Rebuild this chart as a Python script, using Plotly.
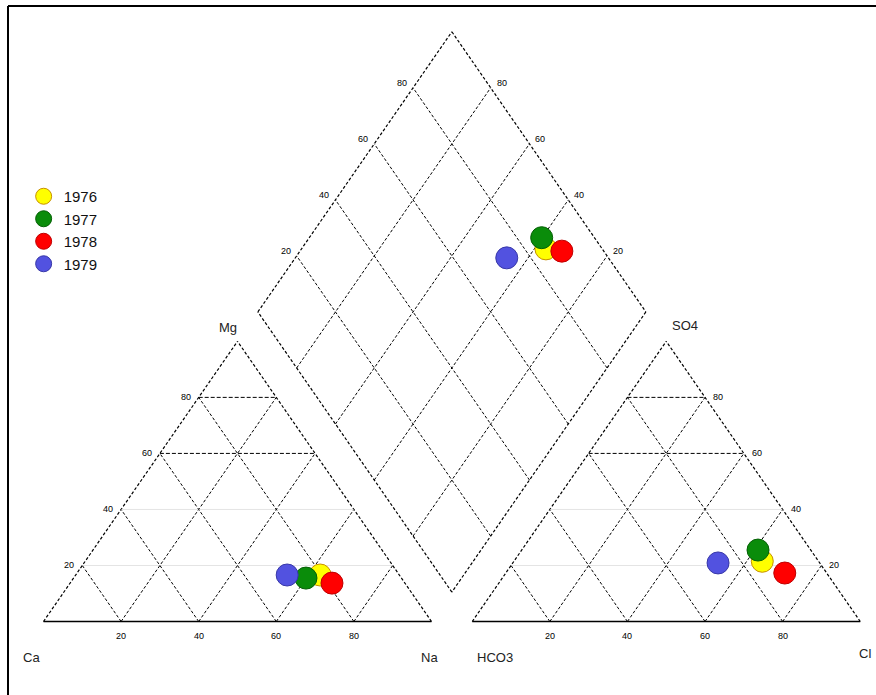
import math
import plotly.graph_objects as go

# ---- data (percent of meq) ----
years = ["1976", "1977", "1978", "1979"]
mg_pct = [16.6, 15.5, 13.7, 16.6]      # Mg (cation triangle, top)
na_pct = [63.0, 59.9, 67.5, 54.5]      # Na+K (cation triangle, right)
so4_pct = [21.5, 25.5, 17.3, 20.9]     # SO4 (anion triangle, top)
cl_pct = [64.0, 60.9, 71.9, 52.9]      # Cl (anion triangle, right)
colors = ["#FFFF00", "#0A8C0A", "#FF0000", "#5252E0"]
edge_colors = ["#C89000", "#066006", "#C00000", "#3838A8"]
tick_vals = [20, 40, 60, 80]
tick_text = ["20", "40", "60", "80"]

# ---- geometry ----
G = 10.5                      # gap between triangles
H = math.sqrt(3) / 2 * 100    # triangle height
BX, BY = 100 + G / 2, G * math.sqrt(3) / 2   # diamond bottom vertex


def cat_xy(mg, na):
    return na + mg / 2, mg * H / 100


def an_xy(so4, cl):
    return 100 + G + cl + so4 / 2, so4 * H / 100


def dia_xy(w, s):
    # w = Ca+Mg, s = SO4+Cl
    return BX + (s - w) / 2, BY + (w + s) / 100 * H


fig = go.Figure()
DASH = "3px,2px"


def seg(p, q, color="black", width=1, dash=DASH):
    fig.add_trace(go.Scatter(x=[p[0], q[0]], y=[p[1], q[1]], mode="lines",
                             line=dict(color=color, width=width, dash=dash),
                             hoverinfo="skip", showlegend=False))


# triangles
for off in (0, 100 + G):
    A = (off, 0); Bp = (off + 100, 0); C = (off + 50, H)
    seg(A, Bp, width=1.6, dash="solid")
    seg(A, C, width=1.2)
    seg(Bp, C, width=1.2)
    for t in tick_vals:
        y = t * H / 100
        xl = off + t / 2
        xr = off + 100 - t / 2
        if t >= 60:
            seg((xl, y), (xr, y), width=1, dash="4px,2px")
        else:
            seg((xl, y), (xr, y), color="#E4E4E4", width=1, dash="solid")
        seg((off + t, 0), (off + t + (100 - t) / 2, (100 - t) * H / 100))
        seg((off + t, 0), (off + t / 2, t * H / 100))

# diamond
Dcorner = [dia_xy(0, 0), dia_xy(100, 0), dia_xy(100, 100), dia_xy(0, 100), dia_xy(0, 0)]
for i in range(4):
    seg(Dcorner[i], Dcorner[i + 1], width=1.2)
for t in tick_vals:
    seg(dia_xy(0, t), dia_xy(100, t))
    seg(dia_xy(t, 0), dia_xy(t, 100))

# ---- data points ----
for i, yr in enumerate(years):
    cx, cy = cat_xy(mg_pct[i], na_pct[i])
    ax_, ay_ = an_xy(so4_pct[i], cl_pct[i])
    dx, dy = dia_xy(100 - na_pct[i], so4_pct[i] + cl_pct[i])
    fig.add_trace(go.Scatter(
        x=[cx, ax_, dx], y=[cy, ay_, dy], mode="markers", name=yr,
        marker=dict(size=22, color=colors[i], line=dict(color=edge_colors[i], width=1)),
    ))

# ---- tick labels ----
ann = []
tf = dict(family="Liberation Sans, Arial", size=9, color="black")
for t, lab in zip(tick_vals, tick_text):
    ann.append(dict(x=t / 2, y=t * H / 100, text=lab, xshift=-13, showarrow=False, font=tf))
    ann.append(dict(x=t, y=0, text=lab, yshift=-14, showarrow=False, font=tf))
    ann.append(dict(x=100 + G + 100 - t / 2, y=t * H / 100, text=lab,
                    xshift=13, showarrow=False, font=tf))
    ann.append(dict(x=100 + G + t, y=0, text=lab, yshift=-14, showarrow=False, font=tf))
    px, py = dia_xy(100, t)
    ann.append(dict(x=px, y=py, text=lab, xshift=-11, yshift=5, showarrow=False, font=tf))
    px, py = dia_xy(t, 100)
    ann.append(dict(x=px, y=py, text=lab, xshift=11, yshift=5, showarrow=False, font=tf))

lf = dict(family="Liberation Sans, Arial", size=13, color="#222222")
for txt, x, y in [("Ca", -3.0, -11.0), ("Na", 99.6, -11.0), ("HCO3", 116.4, -11.0),
                  ("Cl", 211.6, -10.0), ("Mg", 47.5, 91.0), ("SO4", 165.3, 91.6)]:
    ann.append(dict(x=x, y=y, text=txt, showarrow=False, font=lf))

W, HGT = 876, 695
fig.update_layout(
    width=W, height=HGT,
    margin=dict(l=0, r=0, t=0, b=0),
    paper_bgcolor="white", plot_bgcolor="white",
    xaxis=dict(range=[-11.21, 214.56], visible=False, fixedrange=True),
    yaxis=dict(range=[-22.72, 192.12], visible=False, fixedrange=True),
    annotations=ann,
    showlegend=True,
    legend=dict(x=0.027, y=0.741, xanchor="left", yanchor="top",
                font=dict(family="Liberation Sans, Arial", size=15, color="#111111"),
                bgcolor="rgba(0,0,0,0)", itemsizing="trace", tracegroupgap=0),
    shapes=[
        dict(type="line", xref="paper", yref="paper", x0=8 / W, x1=8 / W, y0=0, y1=1 - 6 / HGT,
             line=dict(color="black", width=2)),
        dict(type="line", xref="paper", yref="paper", x0=8 / W, x1=1, y0=1 - 6 / HGT, y1=1 - 6 / HGT,
             line=dict(color="black", width=2)),
    ],
)

fig.write_html("out.html", config={"displayModeBar": False},
               post_script="document.body.style.margin='0';document.body.style.overflow='hidden';")
